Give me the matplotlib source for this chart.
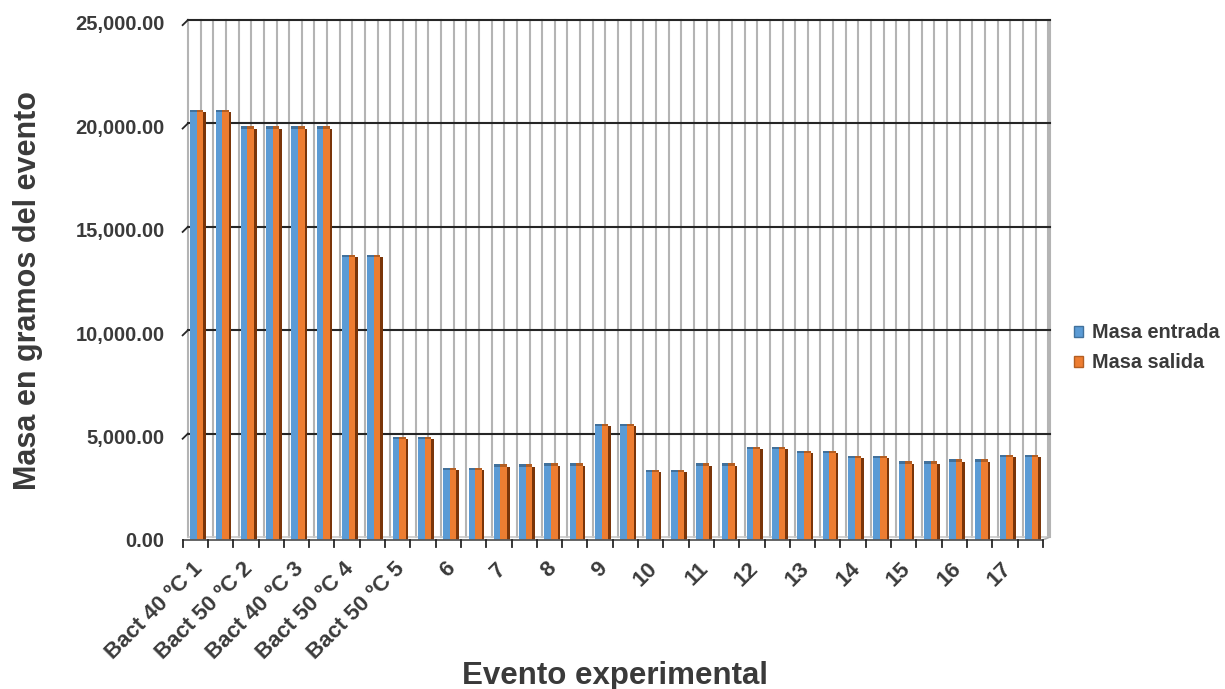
import matplotlib
matplotlib.use("Agg")
import matplotlib.pyplot as plt
from matplotlib.patches import Patch
import numpy as np

# masa por evento (gramos); cada evento aparece en dos categorias consecutivas
masa_entrada = [20800, 20800, 20000, 20000, 20000, 20000, 13800, 13800,
                5000, 5000, 3500, 3500, 3650, 3650, 3700, 3700,
                5600, 5600, 3400, 3400, 3700, 3700, 4500, 4500,
                4300, 4300, 4050, 4050, 3800, 3800, 3900, 3900, 4100, 4100]
masa_salida = [20800, 20800, 20000, 20000, 20000, 20000, 13800, 13800,
               5000, 5000, 3500, 3500, 3650, 3650, 3700, 3700,
               5600, 5600, 3400, 3400, 3700, 3700, 4500, 4500,
               4300, 4300, 4050, 4050, 3800, 3800, 3900, 3900, 4100, 4100]
etiquetas = ["Bact 40 ºC 1", "Bact 50 ºC 2", "Bact 40 ºC 3", "Bact 50 ºC 4",
             "Bact 50 ºC 5", "6", "7", "8", "9", "10", "11", "12", "13",
             "14", "15", "16", "17"]
y_ticks = [0, 5000, 10000, 15000, 20000, 25000]

plt.rcParams['font.family'] = ['Liberation Sans', 'DejaVu Sans']
texto = '#3a3a3a'
azul, naranja = '#5b9bd5', '#ed7d31'
azul_top, naranja_top, lado = '#41719c', '#b35e22', '#7a3509'

fig = plt.figure(figsize=(12.25, 6.89), dpi=100)
ax = fig.add_axes([0.1491, 0.2163, 0.708, 0.7504])

n = len(masa_entrada)
x = np.arange(n)
prof = 0.21      # desplazamiento horizontal de la pared del fondo (efecto 3D)
alto = 145       # desplazamiento vertical de la pared del fondo
dy = 250         # inclinacion de las marcas del eje Y
x_fin = n - 0.5 + 0.28

# pared del fondo: lineas verticales cada media categoria
for gx in np.arange(-0.5, n - 0.4, 0.5) + prof:
    ax.plot([gx, gx], [alto, 25000 + alto], color='#b4b4b4', lw=1.5,
            zorder=1, clip_on=False)
ax.plot([x_fin] * 2, [alto, 25000 + alto], color='#b4b4b4', lw=1.5,
        zorder=1, clip_on=False)

# lineas horizontales principales
for v in y_ticks[1:]:
    ax.plot([-0.5 + prof, x_fin], [v + alto, v + alto], color='#262626',
            lw=1.5, zorder=1, clip_on=False)
    ax.plot([-0.5, -0.5 + prof], [v + alto - dy, v + alto], color='#262626',
            lw=1.3, zorder=1, clip_on=False)

# piso
ax.plot([-0.5 + prof, x_fin], [alto, alto], color='#c8c8c8', lw=1.2, zorder=1)
ax.plot([-0.5, n - 0.5], [0, 0], color='#595959', lw=1.3, zorder=4, clip_on=False)
ax.plot([n - 0.5, x_fin], [0, alto], color='#b0b0b0', lw=1.2, zorder=4)
for b in np.arange(-0.5, n, 1.0):
    ax.plot([b, b], [0, -330], color='#262626', lw=1.3, zorder=4, clip_on=False)

# barras: frente azul, frente naranja, lado oscuro y caras superiores
tapa = 110
ent = np.array(masa_entrada)
sal = np.array(masa_salida)
ax.bar(x - 0.07, ent - tapa, width=0.26, color=azul, zorder=3)
ax.bar(x + 0.19, sal - tapa, width=0.26, color=naranja, zorder=3)
ax.bar(x + 0.37, sal - tapa, width=0.10, color=lado, zorder=2)
ax.bar(x - 0.07, tapa, bottom=ent - tapa, width=0.26, color=azul_top, zorder=3)
ax.bar(x + 0.19, tapa, bottom=sal - tapa, width=0.26, color=naranja_top, zorder=3)

ax.set_xlim(-0.5, x_fin)
ax.set_ylim(0, 25000)
for s in ax.spines.values():
    s.set_visible(False)

ax.set_yticks(y_ticks)
ax.set_yticklabels([f"{v:,.2f}" for v in y_ticks], fontsize=14.5,
                   fontweight='bold', color=texto)
ax.tick_params(axis='y', length=0, pad=13)
ax.set_xticks([])

for i, lab in enumerate(etiquetas):
    ax.text(2 * i + 0.15, -1250, lab, rotation=45, rotation_mode='anchor',
            ha='right', va='center', fontsize=16, fontweight='bold',
            color=texto, clip_on=False)

fig.text(0.023, 0.579, "Masa en gramos del evento", rotation=90, ha='center',
         va='center', fontsize=22, fontweight='bold', color=texto)
fig.text(0.502, 0.007, "Evento experimental", ha='center', va='baseline',
         fontsize=22.5, fontweight='bold', color=texto)

handles = [Patch(facecolor=azul, edgecolor=azul_top, label="Masa entrada"),
           Patch(facecolor=naranja, edgecolor=naranja_top, label="Masa salida")]
fig.legend(handles=handles, loc='center left', bbox_to_anchor=(0.877, 0.495),
           frameon=False, handlelength=0.45, handleheight=0.45, handletextpad=0.45,
           labelspacing=0.55, borderaxespad=0, borderpad=0,
           prop={'size': 14.3, 'weight': 'bold'}, labelcolor=texto)

fig.savefig("out.png", dpi=100)
